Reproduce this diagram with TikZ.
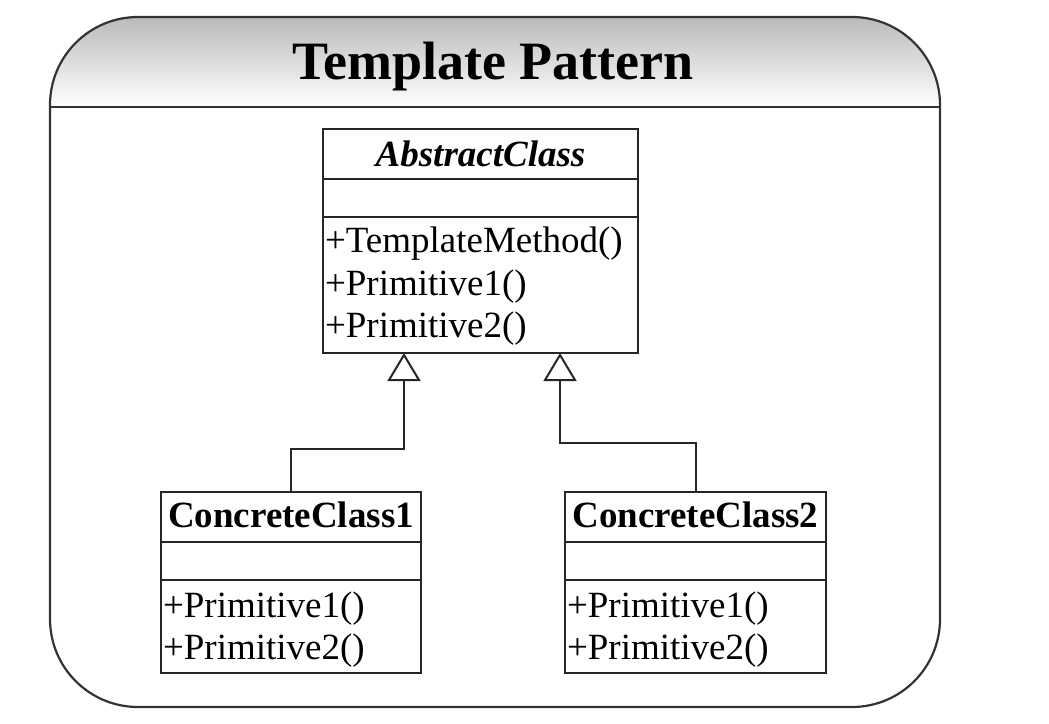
\documentclass[tikz,border=0pt]{standalone}
\usepackage{fontspec}
\setmainfont{Liberation Serif}
\usetikzlibrary{arrows.meta}
\begin{document}
\begin{tikzpicture}[x=1pt,y=-1pt,
  line width=2pt,
  framecol/.style={draw=black!80, line width=2.2pt},
  box/.style={draw=black!85, line width=2pt, rectangle, inner sep=0pt, outer sep=0pt, anchor=north west},
  sep/.style={draw=black!85, line width=2pt},
  meth/.style={anchor=base west, inner sep=0pt, font=\fontsize{37}{40}\selectfont},
  cname/.style={anchor=base, inner sep=0pt, font=\fontsize{37}{40}\selectfont\bfseries},
  inh/.style={draw=black!85, line width=2pt, -{Triangle[open, length=28pt, width=33pt, fill=white]}}
]
\useasboundingbox (0,0) rectangle (1049,723);
% frame with shaded header
\begin{scope}
  \clip[rounded corners=88pt] (50,17) rectangle (940,707);
  \shade[top color=black!27, bottom color=white] (50,17) rectangle (940,107);
\end{scope}
\draw[framecol, rounded corners=88pt] (50,17) rectangle (940,707);
\draw[framecol] (50,107) -- (940,107);
\node[anchor=base, inner sep=0pt, font=\fontsize{54}{60}\selectfont\bfseries] (title) at (493,79) {Template Pattern};

% AbstractClass
\node[box, minimum width=315pt, minimum height=224pt] (abs) at (323,129) {};
\draw[sep] (323,179) -- (638,179);
\draw[sep] (323,217) -- (638,217);
\node[cname, font=\fontsize{37}{40}\selectfont\bfseries\itshape] (absname) at (480.5,166) {AbstractClass};
\node[meth] (am1) at (324,252) {+TemplateMethod()};
\node[meth] (am2) at (324,295) {+Primitive1()};
\node[meth] (am3) at (324,337) {+Primitive2()};

% ConcreteClass1
\node[box, minimum width=260pt, minimum height=181pt] (c1) at (161,492) {};
\draw[sep] (161,542) -- (421,542);
\draw[sep] (161,580) -- (421,580);
\node[cname] (c1name) at (291,527) {ConcreteClass1};
\node[meth] (c1m1) at (162,617) {+Primitive1()};
\node[meth] (c1m2) at (162,659) {+Primitive2()};

% ConcreteClass2
\node[box, minimum width=261pt, minimum height=181pt] (c2) at (565,492) {};
\draw[sep] (565,542) -- (826,542);
\draw[sep] (565,580) -- (826,580);
\node[cname] (c2name) at (695.5,527) {ConcreteClass2};
\node[meth] (c2m1) at (566,617) {+Primitive1()};
\node[meth] (c2m2) at (566,659) {+Primitive2()};

% inheritance connectors
\coordinate (t1) at (404,353);
\coordinate (t2) at (560,353);
\draw[inh] (c1.north) -- ++(0,-43) -| (t1);
\draw[inh] (c2.north) -- ++(0,-49) -| (t2);
\end{tikzpicture}
\end{document}
